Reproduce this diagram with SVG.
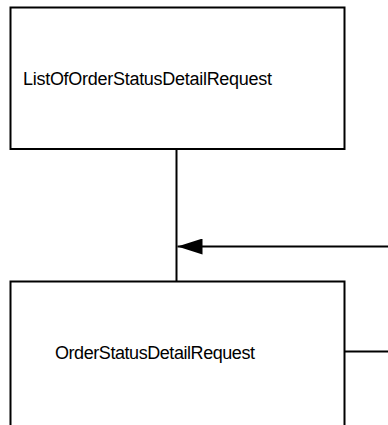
<svg xmlns="http://www.w3.org/2000/svg" width="388" height="425" viewBox="0 0 388 425">
<style>
.box{fill:#fff;stroke:#000;stroke-width:2}
.lbl{font-family:"Liberation Sans",Arial,sans-serif;font-size:18px;fill:#000}
.conn{stroke:#000;stroke-width:2;fill:none}
</style>
<defs>
<marker id="ah" markerUnits="userSpaceOnUse" markerWidth="26" markerHeight="16" refX="25" refY="8" orient="auto">
<path d="M0,0 L25,8 L0,16 Z" fill="#000"/>
</marker>
</defs>
<rect width="388" height="425" fill="#fff"/>
<g id="connectors">
<line class="conn" x1="176.5" y1="149" x2="176.5" y2="282"/>
<line class="conn" x1="388" y1="246.5" x2="177.5" y2="246.5" marker-end="url(#ah)"/>
<line class="conn" x1="344" y1="351.5" x2="388" y2="351.5"/>
</g>
<g id="ListOfOrderStatusDetailRequest">
<rect class="box" x="10.5" y="7.5" width="334" height="141.5"/>
<text class="lbl" x="23" y="85" textLength="249" lengthAdjust="spacing">ListOfOrderStatusDetailRequest</text>
</g>
<g id="OrderStatusDetailRequest">
<rect class="box" x="10.5" y="281.5" width="334" height="160"/>
<text class="lbl" x="55" y="359" textLength="200" lengthAdjust="spacing">OrderStatusDetailRequest</text>
</g>
</svg>
